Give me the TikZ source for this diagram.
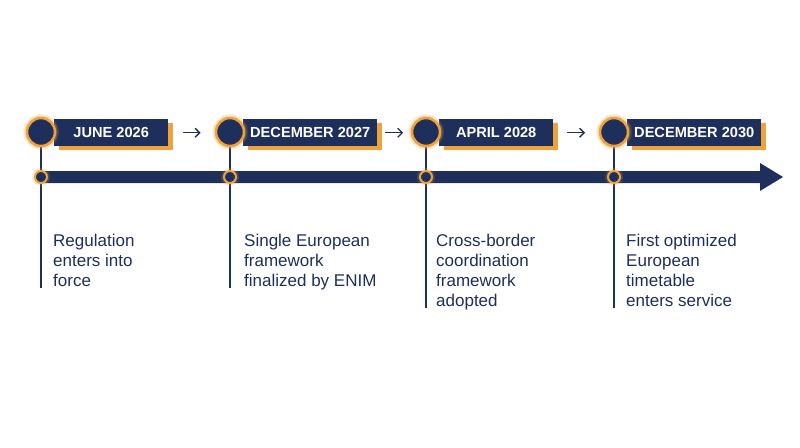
\documentclass[tikz,border=0pt]{standalone}
\usepackage{fontspec}
\setmainfont{Liberation Sans}
\usetikzlibrary{calc,shadows,arrows.meta}
\definecolor{navy}{RGB}{30,47,91}
\definecolor{accent}{RGB}{238,162,62}
\pgfdeclarelayer{background}
\pgfsetlayers{background,main}

\begin{document}
\begin{tikzpicture}[x=1pt, y=-1pt,
    bigdot/.style={circle, fill=navy, draw=accent, line width=2.5pt, minimum size=28pt, inner sep=0pt,
        preaction={draw=accent, line width=8pt, opacity=0.15},
        preaction={draw=accent, line width=5pt, opacity=0.3}},
    smalldot/.style={circle, fill=navy, draw=accent, line width=2pt, minimum size=12pt, inner sep=0pt,
        preaction={draw=accent, line width=6pt, opacity=0.2}},
    datebox/.style={fill=navy, text=white, anchor=west, minimum height=27pt, minimum width=114pt,
        inner xsep=7pt, font=\fontsize{14.6}{18}\selectfont\bfseries,
        drop shadow={shadow xshift=5pt, shadow yshift=-4pt, fill=accent, opacity=1}},
    note/.style={anchor=north west, inner sep=0pt, align=left, text=navy,
        font=\fontsize{17}{20}\selectfont},
    stem/.style={draw=navy, line width=2pt},
    flow/.style={draw=navy, line width=1.3pt, -{Straight Barb[length=4.5pt, width=9pt]}}
]

    \useasboundingbox (0,0) rectangle (800,447);

    % --- Milestone 1 ---
    \node[datebox] (d1) at (54,132.5) {JUNE 2026};
    \node[bigdot] (m1) at (41,132) {};
    \node[smalldot] (p1) at (41,177) {};
    \node[note] (n1) at (53,234) {Regulation\\enters into\\force};
    \coordinate (e1) at (41,288);

    % --- Milestone 2 ---
    \node[datebox] (d2) at (243,132.5) {DECEMBER 2027};
    \node[bigdot] (m2) at (230,132) {};
    \node[smalldot] (p2) at (230,177) {};
    \node[note] (n2) at (244,234) {Single European\\framework\\finalized by ENIM};
    \coordinate (e2) at (230,288);

    % --- Milestone 3 ---
    \node[datebox] (d3) at (439,132.5) {APRIL 2028};
    \node[bigdot] (m3) at (426,132) {};
    \node[smalldot] (p3) at (426,177) {};
    \node[note] (n3) at (436,234) {Cross-border\\coordination\\framework\\adopted};
    \coordinate (e3) at (426,308);

    % --- Milestone 4 ---
    \node[datebox] (d4) at (627,132.5) {DECEMBER 2030};
    \node[bigdot] (m4) at (614,132) {};
    \node[smalldot] (p4) at (614,177) {};
    \node[note] (n4) at (626,234) {First optimized\\European\\timetable\\enters service};
    \coordinate (e4) at (614,308);

    % --- Arrows between the dates ---
    \draw[flow] ($(d1.east)!0.5!(m2.west)+(-9,0.5)$) -- +(18,0);
    \draw[flow] ($(d2.east)!0.5!(m3.west)+(-9,0.5)$) -- +(18,0);
    \draw[flow] ($(d3.east)!0.5!(m4.west)+(-9,0.5)$) -- +(18,0);

    % --- Time axis and stems ---
    \begin{pgfonlayer}{background}
        \fill[navy] (41,171) -- (760,171) -- (760,163) -- (783,177)
            -- (760,191) -- (760,183) -- (41,183) -- cycle;
        \draw[stem] (m1) -- (p1) -- (e1);
        \draw[stem] (m2) -- (p2) -- (e2);
        \draw[stem] (m3) -- (p3) -- (e3);
        \draw[stem] (m4) -- (p4) -- (e4);
    \end{pgfonlayer}

\end{tikzpicture}
\end{document}
